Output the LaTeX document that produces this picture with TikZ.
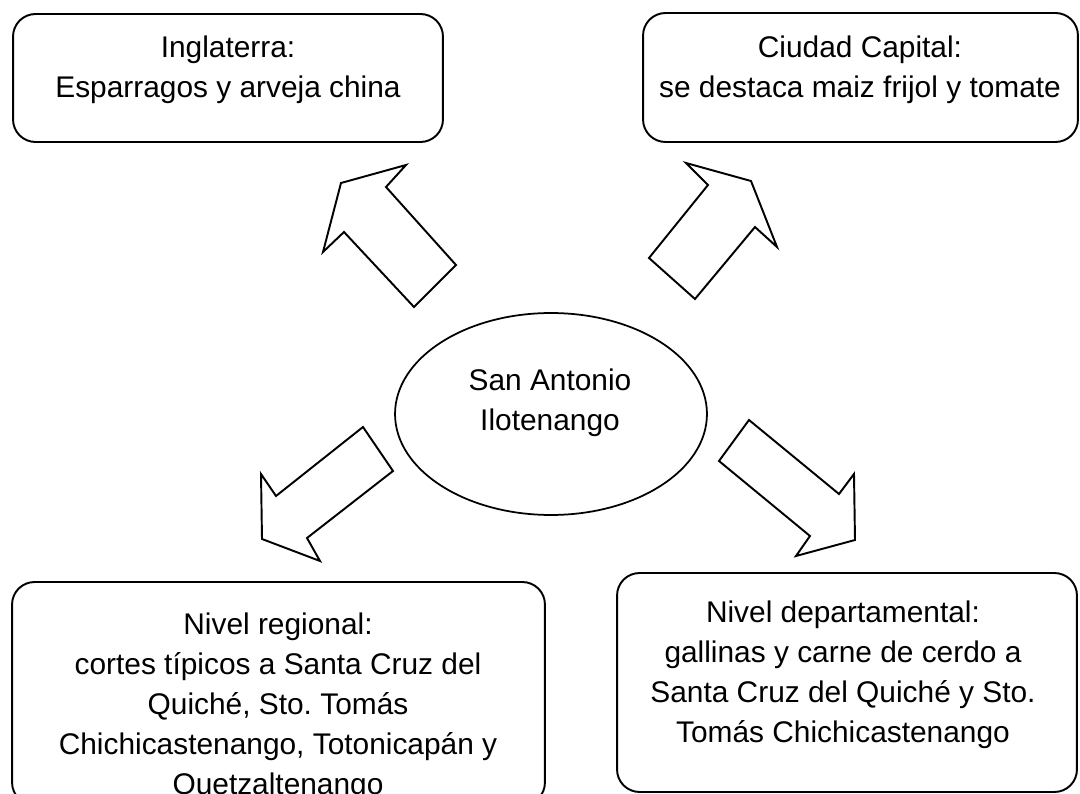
\documentclass[tikz,border=0pt]{standalone}
\usepackage{fontspec}
\setmainfont{Liberation Sans}
\usetikzlibrary{shapes.geometric}
\frenchspacing

\tikzset{
    caja/.style={draw, line width=1.1pt, rounded corners=0.45cm, inner sep=0pt},
    texto/.style={align=center, font=\fontsize{17}{22.8}\selectfont},
    flecha/.style={draw, line width=1.1pt, line join=miter},
}

\begin{document}
\begin{tikzpicture}[x=0.02cm, y=-0.02cm]

    \useasboundingbox (0,0) rectangle (1080,794);
    \clip (0,0) rectangle (1080,794);

    % Inglaterra
    \node[caja, minimum width=8.6cm, minimum height=2.56cm] (inglaterra) at (228,78) {};
    \node[texto] (inglaterratxt) at (228,70) {Inglaterra:\\Esparragos y arveja china};

    % Ciudad Capital
    \node[caja, minimum width=8.7cm, minimum height=2.58cm] (capital) at (860.5,77.5) {};
    \node[texto] (capitaltxt) at (860,70) {Ciudad Capital:\\se destaca maiz frijol y tomate};

    % Nivel regional, cut at the bottom
    \node[caja, minimum width=10.66cm, minimum height=4.46cm] (regional) at (278.5,693.5) {};
    \node[texto] (regionaltxt) at (278,707) {Nivel regional:\\cortes típicos a Santa Cruz del\\Quiché, Sto. Tomás\\Chichicastenango, Totonicapán y\\Quetzaltenango};

    % Nivel departamental
    \node[caja, minimum width=9.2cm, minimum height=4.38cm] (departamental) at (847,682.5) {};
    \node[texto] (departamentaltxt) at (843,674.5) {Nivel departamental:\\gallinas y carne de cerdo a\\Santa Cruz del Quiché y Sto.\\Tomás Chichicastenango};

    % San Antonio Ilotenango
    \node[draw, ellipse, line width=1pt, inner sep=0pt, minimum width=6.24cm, minimum height=4.04cm] (sanantonio) at (551,414) {};
    \node[texto] (sanantoniotxt) at (550,403) {San Antonio\\Ilotenango};

    % block arrows
    \draw[flecha] (414,307) -- (344,232) -- (323,252) -- (341,183) -- (406,165) -- (386,187) -- (456,265) -- cycle;
    \draw[flecha] (695,299) -- (649,258) -- (708,185) -- (686,163) -- (751,181) -- (777,247) -- (755,227) -- cycle;
    \draw[flecha] (363,427) -- (276,496) -- (261,474) -- (262,539) -- (320,561) -- (307,538) -- (393,471) -- cycle;
    \draw[flecha] (749,420) -- (839,494) -- (854,474) -- (855,540) -- (796,556) -- (810,536) -- (719,461) -- cycle;

\end{tikzpicture}
\end{document}
